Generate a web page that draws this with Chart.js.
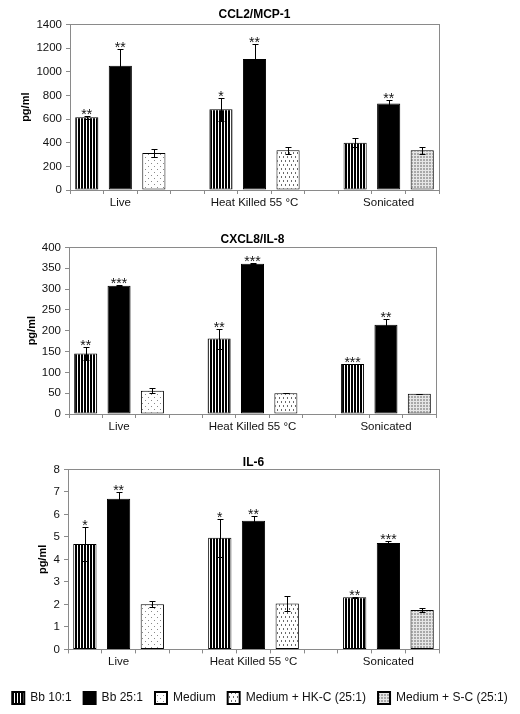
<!DOCTYPE html>
<html>
<head>
<meta charset="utf-8">
<script src="https://cdn.jsdelivr.net/npm/chart.js@4/dist/chart.umd.min.js"></script>
<style>
  html, body { margin: 0; padding: 0; background: #fff; }
  #wrap { position: relative; width: 520px; height: 714px; overflow: hidden; }
  canvas { position: absolute; left: 0; }
</style>
</head>
<body>
<div id="wrap">
  <canvas id="c1" width="520" height="215" style="top:0px"></canvas>
  <canvas id="c2" width="520" height="214" style="top:225px"></canvas>
  <canvas id="c3" width="520" height="266" style="top:448px"></canvas>
</div>
<script>
// ---------- DATA ----------
const categories = ['Live', 'Heat Killed 55 °C', 'Sonicated'];
const seriesNames = ['Bb 10:1', 'Bb 25:1', 'Medium', 'Medium + HK-C (25:1)', 'Medium + S-C (25:1)'];

// CCL2/MCP-1 (pg/ml)
const ccl2Bb10 = [614, 682, 400];
const ccl2Bb10Err = [10, 95, 39];
const ccl2Bb25 = [1051, 1107, 732];
const ccl2Bb25Err = [138, 124, 31];
const ccl2Ctrl = [313, 335, 335];
const ccl2CtrlErr = [30, 28, 28];
const ccl2Stars10 = ['**', '*', ''];
const ccl2Stars25 = ['**', '**', '**'];
const ccl2Ticks = { max: 1400, step: 200 };

// CXCL8/IL-8 (pg/ml)
const il8Bb10 = [145, 181, 120];
const il8Bb10Err = [16, 24, 1];
const il8Bb25 = [308, 361, 214];
const il8Bb25Err = [1.5, 1.5, 13];
const il8Ctrl = [56, 50, 48.5];
const il8CtrlErr = [6, 0.5, 0.5];
const il8Stars10 = ['**', '**', '***'];
const il8Stars25 = ['***', '***', '**'];
const il8Ticks = { max: 400, step: 50 };

// IL-6 (pg/ml)
const il6Bb10 = [4.69, 4.96, 2.32];
const il6Bb10Err = [0.77, 0.85, 0.02];
const il6Bb25 = [6.70, 5.72, 4.73];
const il6Bb25Err = [0.31, 0.2, 0.09];
const il6Ctrl = [2.01, 2.04, 1.75];
const il6CtrlErr = [0.12, 0.33, 0.07];
const il6Stars10 = ['*', '*', '**'];
const il6Stars25 = ['**', '**', '***'];
const il6Ticks = { max: 8, step: 1 };

// ---------- PATTERNS ----------
function makePattern(w, h, draw) {
  const c = document.createElement('canvas');
  c.width = w; c.height = h;
  const g = c.getContext('2d');
  draw(g);
  return g.createPattern(c, 'repeat');
}
const patStripe = makePattern(3, 1, g => {
  g.fillStyle = '#fff'; g.fillRect(0, 0, 3, 1);
  g.fillStyle = '#000'; g.fillRect(0, 0, 2, 1);
});
const patDots = makePattern(6, 6, g => {
  g.fillStyle = '#fff'; g.fillRect(0, 0, 6, 6);
  g.fillStyle = '#8a8a8a'; g.fillRect(1, 1, 1, 1); g.fillRect(4, 4, 1, 1);
});
const patDash = makePattern(4, 8, g => {
  g.fillStyle = '#fff'; g.fillRect(0, 0, 4, 8);
  g.fillStyle = '#6a6a6a'; g.fillRect(1, 0, 1, 2); g.fillRect(3, 4, 1, 2);
});
const patCheck = makePattern(3, 3, g => {
  g.fillStyle = '#a8a8a8'; g.fillRect(0, 0, 3, 3);
  g.fillStyle = '#e6e6e6'; g.fillRect(2, 0, 1, 3); g.fillRect(0, 2, 3, 1);
});
const fills = [patStripe, '#000', patDots, patDash, patCheck];

// ---------- HELPERS ----------
const slotCount = categories.length * 4 - 1; // 3 bars + gap per group
const slotLabels = [];
for (let i = 0; i < slotCount; i++) slotLabels.push((i % 4 === 1) ? categories[Math.floor(i / 4)] : '');

function slots(values, offset, onlyGroup) {
  const arr = new Array(slotCount).fill(null);
  values.forEach((v, g) => {
    if (onlyGroup === undefined || onlyGroup === g) arr[g * 4 + offset] = v;
  });
  return arr;
}

function buildDatasets(b10, b10e, b25, b25e, ctrl, ctrle, s10, s25) {
  const defs = [
    { d: slots(b10, 0), e: slots(b10e, 0), s: slots(s10, 0) },
    { d: slots(b25, 1), e: slots(b25e, 1), s: slots(s25, 1) },
    { d: slots(ctrl, 2, 0), e: slots(ctrle, 2, 0), s: [] },
    { d: slots(ctrl, 2, 1), e: slots(ctrle, 2, 1), s: [] },
    { d: slots(ctrl, 2, 2), e: slots(ctrle, 2, 2), s: [] }
  ];
  return defs.map((o, i) => ({
    label: seriesNames[i],
    data: o.d,
    errors: o.e,
    stars: o.s,
    yAxisID: 'y',
    backgroundColor: fills[i],
    borderColor: '#000',
    borderWidth: 1,
    borderSkipped: false,
    grouped: false,
    barPercentage: 0.69,
    categoryPercentage: 1.0
  }));
}

const FONT = "'Liberation Sans', Arial, sans-serif";

const errPlugin = {
  id: 'errs',
  afterDatasetsDraw(chart) {
    const ctx = chart.ctx;
    const ys = chart.scales.y;
    ctx.save();
    chart.data.datasets.forEach((ds, di) => {
      const meta = chart.getDatasetMeta(di);
      meta.data.forEach((bar, i) => {
        const v = ds.data[i];
        if (v === null || v === undefined) return;
        const e = ds.errors[i] || 0;
        const x = Math.round(bar.x) + 0.5;
        const yT = Math.round(ys.getPixelForValue(v + e)) + 0.5;
        const yB = Math.round(ys.getPixelForValue(Math.max(v - e, 0))) + 0.5;
        ctx.strokeStyle = '#000';
        ctx.lineWidth = 1;
        ctx.beginPath();
        ctx.moveTo(x, yT); ctx.lineTo(x, yB);
        ctx.moveTo(x - 3, yT); ctx.lineTo(x + 3, yT);
        ctx.moveTo(x - 3, yB); ctx.lineTo(x + 3, yB);
        ctx.stroke();
        const st = ds.stars[i];
        if (st) {
          ctx.fillStyle = '#111';
          ctx.font = '14px ' + FONT;
          ctx.textAlign = 'center';
          ctx.textBaseline = 'alphabetic';
          ctx.fillText(st, bar.x, ys.getPixelForValue(v + e) + 3);
        }
      });
    });
    ctx.restore();
  }
};

const framePlugin = {
  id: 'frame',
  afterDraw(chart) {
    const a = chart.chartArea;
    const ctx = chart.ctx;
    ctx.save();
    ctx.strokeStyle = '#8a8a8a';
    ctx.lineWidth = 1;
    ctx.strokeRect(Math.round(a.left) + 0.5, Math.round(a.top) + 0.5,
                   Math.round(a.right - a.left), Math.round(a.bottom - a.top));
    ctx.restore();
  }
};

function makeChart(id, title, datasets, ticks, cfg) {
  return new Chart(document.getElementById(id), {
    type: 'bar',
    data: { labels: slotLabels, datasets: datasets },
    options: {
      responsive: false,
      animation: false,
      devicePixelRatio: 1,
      layout: { padding: 0 },
      plugins: {
        title: {
          display: true, text: title, fullSize: false, color: '#000',
          font: { family: FONT, size: 12, weight: 'bold' },
          padding: { top: 7, bottom: cfg.titleBottom }
        },
        legend: cfg.legend ? {
          display: true, position: 'bottom',
          labels: {
            boxWidth: 12, boxHeight: 12, padding: 12, color: '#111',
            font: { family: FONT, size: 12 },
            generateLabels(chart) {
              return Chart.defaults.plugins.legend.labels.generateLabels(chart)
                .map(l => Object.assign(l, { lineWidth: 2, strokeStyle: '#000' }));
            }
          }
        } : { display: false },
        tooltip: { enabled: false }
      },
      scales: {
        x: {
          type: 'category',
          offset: true,
          afterFit(s) { s.height = cfg.xh; },
          grid: { offset: true, drawOnChartArea: false, drawTicks: true, tickLength: 4, color: '#8a8a8a' },
          border: { display: true, color: '#8a8a8a' },
          ticks: { autoSkip: false, maxRotation: 0, minRotation: 0, padding: 2, color: '#111',
                   font: { family: FONT, size: 11.5 } }
        },
        y: {
          position: 'left',
          min: 0, max: ticks.max,
          afterFit(s) { s.width = cfg.left; },
          grid: { drawOnChartArea: false, drawTicks: true, tickLength: 4, color: '#8a8a8a' },
          border: { display: true, color: '#8a8a8a' },
          ticks: { stepSize: ticks.step, padding: 4, color: '#111', font: { family: FONT, size: 11.5 },
                   callback: v => String(v) },
          title: { display: true, text: 'pg/ml', color: '#000',
                   font: { family: FONT, size: 11, weight: 'bold' }, padding: { top: cfg.yTitlePad, bottom: 0 } }
        },
        yr: {
          position: 'right',
          display: true,
          afterFit(s) { s.width = cfg.right; },
          grid: { display: false, drawTicks: false },
          border: { display: false },
          ticks: { display: false }
        }
      }
    },
    plugins: [errPlugin, framePlugin]
  });
}

makeChart('c1', 'CCL2/MCP-1',
  buildDatasets(ccl2Bb10, ccl2Bb10Err, ccl2Bb25, ccl2Bb25Err, ccl2Ctrl, ccl2CtrlErr, ccl2Stars10, ccl2Stars25),
  ccl2Ticks, { right: 81, left: 70, xh: 25, titleBottom: 3, legend: false, yTitlePad: 19 });
makeChart('c2', 'CXCL8/IL-8',
  buildDatasets(il8Bb10, il8Bb10Err, il8Bb25, il8Bb25Err, il8Ctrl, il8CtrlErr, il8Stars10, il8Stars25),
  il8Ticks, { right: 84, left: 69, xh: 25, titleBottom: 1, legend: false, yTitlePad: 25 });
makeChart('c3', 'IL-6',
  buildDatasets(il6Bb10, il6Bb10Err, il6Bb25, il6Bb25Err, il6Ctrl, il6CtrlErr, il6Stars10, il6Stars25),
  il6Ticks, { right: 81, left: 68, xh: 30.6, titleBottom: 0, legend: true, yTitlePad: 36 });
</script>
</body>
</html>
